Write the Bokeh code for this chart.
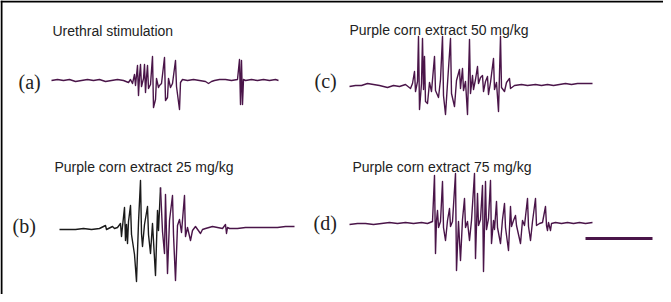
from bokeh.plotting import figure
from bokeh.models import Range1d, Span
from bokeh.core.properties import value
from bokeh.embed import file_html
from bokeh.resources import INLINE

# ---------------- data (time in samples, amplitude in arbitrary units) ----------------
a_t = [0, 6, 12, 18, 24, 30, 36, 42, 48, 54, 60, 66, 72, 77, 79, 81, 83, 84, 86, 87, 88, 89, 90, 92, 93, 94, 95, 96, 97,
       99, 101, 102, 104, 105, 107, 108, 110, 113, 114, 116, 117, 119, 121, 124, 125, 128, 129, 131, 136, 142, 148, 154,
       157, 160, 163, 168, 174, 180, 186, 188, 189, 190, 191, 192, 194, 200, 206, 212, 218, 224, 227]
a_v = [0, 1, 0, 1, -1, 0, 1, 0, 1, -1, 0, 1, 0, -2, 1, -3, 6, -5, 15, -15, 4, 16, -6, 2, 16, -12, 3, 15, -8,
       -4, 24, -27, -19, 2, -7, -5, -3, 23, -20, -17, 2, -7, -3, 20, -6, -29, -2, 1, 0, 1, 0, -1,
       -3, -1, 0, 1, 1, 0, 1, 21, -24, 20, -24, 1, 0, 1, 0, 1, 0, 1, 0]

c_t = [0, 6, 12, 18, 24, 30, 38, 44, 50, 56, 61, 63, 65, 66, 68, 69, 70, 72, 73, 74, 75, 76, 78, 80, 82, 85, 86, 89, 91,
       93, 94, 96, 98, 101, 102, 105, 107, 110, 111, 113, 114, 116, 118, 120, 121, 123, 124, 126, 128, 129, 131, 133,
       134, 136, 138, 139, 141, 144, 145, 147, 149, 151, 152, 155, 157, 160, 161, 165, 172, 178, 186, 192, 198, 204,
       210, 216, 222, 228, 234, 240, 243]
c_v = [-1, 0, 0, 2, 1, 0, -2, 0, -1, 1, -3, 2, 14, -6, 4, 49, -24, 2, 47, -4, 29, -16, -18, 3, -6, 29, -5, -12, 6,
       49, -10, -29, 2, 47, -8, -21, 5, 16, -3, 17, -5, 4, -29, 46, -8, 10, -4, 6, 19, 2, 8, 10,
       -6, 4, 9, -9, 3, 27, -4, 3, -26, 49, -2, -6, 3, 7, -3, 0, 1, 0, 1, 0, 1, 0,
       1, 2, 1, 2, 2, 2, 2]

b_t = [0, 8, 16, 24, 32, 40, 46, 47, 53, 55, 58, 61, 62, 63, 65, 66, 67, 68, 69, 71, 72, 75, 77, 79, 81, 82, 83, 85, 88,
       89, 91, 93, 96, 98, 99, 101, 103, 105, 106, 108, 110, 113, 114, 116, 118, 120, 122, 125, 126, 128, 131, 133,
       136, 141, 143, 146, 153, 158, 163, 166, 167, 168, 170, 178, 186, 194, 202, 210, 218, 226, 235]
b_v = [-1, -1, -1, 0, -1, 0, 3, -1, 2, 0, 1, 5, -8, 2, 21, -12, 4, -15, 7, 23, -6, -26, -53, 6, 48, -5, -18, 4, 22,
       -6, -25, 5, -47, 18, -2, 41, -3, -25, 34, -45, 8, 33, -6, -52, 3, 9, -4, 33, -8, 1, -12, -2,
       2, -5, -1, 0, 2, 1, 0, 4, -5, 1, 0, 0, 1, 1, 1, 1, 1, 2, 2]
b_black_until = 101  # control segment drawn in black

d_t = [0, 8, 16, 24, 32, 40, 48, 56, 64, 72, 78, 83, 85, 86, 87, 88, 89, 91, 93, 94, 96, 98, 100, 101, 103, 106, 107,
       109, 111, 113, 115, 116, 118, 120, 122, 125, 126, 128, 129, 131, 133, 134, 136, 137, 139, 141, 142, 144, 145,
       147, 148, 151, 153, 155, 156, 159, 161, 162, 164, 166, 167, 171, 173, 175, 178, 179, 181, 183, 186, 187, 190,
       193, 196, 197, 198, 199, 201, 202, 206, 212, 218, 224, 230, 236, 243]
d_v = [-1, 0, 0, -1, 0, 1, 0, 1, 0, 1, 0, 2, 48, -30, 3, 13, -4, 2, 42, -4, -17, 3, 15, -3, 2, 50, -47,
       2, -37, 4, 25, -4, 2, -17, 3, 50, -35, 30, -2, 4, 38, -48, 42, -6, 5, 43, -20, 3, -6,
       22, -4, -20, 4, 20, -4, -27, 17, -3, 3, 8, -2, -20, 3, -2, 25, -3, -17, 2, 25, -2, 0,
       1, 17, -2, -7, 1, -7, 0, 1, 0, 1, 0, 1, 0, 1]

scale_bar_t = [236, 303]
scale_bar_v = [-15, -15]

labels = ["(a)", "(b)", "(c)", "(d)"]
titles = ["Urethral stimulation", "Purple corn extract 25 mg/kg",
          "Purple corn extract 50 mg/kg", "Purple corn extract 75 mg/kg"]

# ---------------- layout ----------------
W, H = 663, 294
PURPLE = "#4a1549"

p = figure(width=W, height=H, output_backend="svg", toolbar_location=None,
           x_range=Range1d(0, W), y_range=Range1d(H, 0), min_border=0,
           x_axis_location=None, y_axis_location=None)
p.grid.visible = False
p.outline_line_color = None
p.background_fill_color = "white"
p.border_fill_color = "white"

# panel origins in screen pixels: (trace start x, baseline y)
origins = {"a": (51, 80), "b": (59, 228), "c": (349, 85), "d": (349, 223)}
for k, (x0, yb) in origins.items():
    p.extra_x_ranges[k] = Range1d(-x0, W - x0)
    p.extra_y_ranges[k] = Range1d(-(H - yb), yb)

def trace(t, v, name, color, lw=1.4):
    p.line(t, v, x_range_name=name, y_range_name=name, line_color=color,
           line_width=lw, line_join="round")

trace(a_t, a_v, "a", PURPLE)
trace(c_t, c_v, "c", PURPLE)
trace(d_t, d_v, "d", PURPLE)
i = b_t.index(b_black_until)
trace(b_t[:i + 1], b_v[:i + 1], "b", "#1a1a1a")
trace(b_t[i:], b_v[i:], "b", PURPLE)

# scale bar
p.line(scale_bar_t, scale_bar_v, x_range_name="d", y_range_name="d",
       line_color=PURPLE, line_width=3)

# panel labels
p.text(x=[18, 12, 314, 313], y=[81, 225, 80, 222], text=labels,
       text_font=value("Liberation Serif"), text_font_size="20px",
       text_baseline="middle", text_align="left", text_color="#222222")
# titles
p.text(x=[52, 54, 349, 352], y=[30, 166, 29, 166], text=titles,
       text_font=value("Liberation Sans"), text_font_size="14px",
       text_baseline="alphabetic", text_align="left", text_color="#222222")

# frame (top and left edges)
p.add_layout(Span(location=1, dimension="width", line_color="black", line_width=2))
p.add_layout(Span(location=1, dimension="height", line_color="black", line_width=2))

open("out.html", "w").write(file_html(p, INLINE))
